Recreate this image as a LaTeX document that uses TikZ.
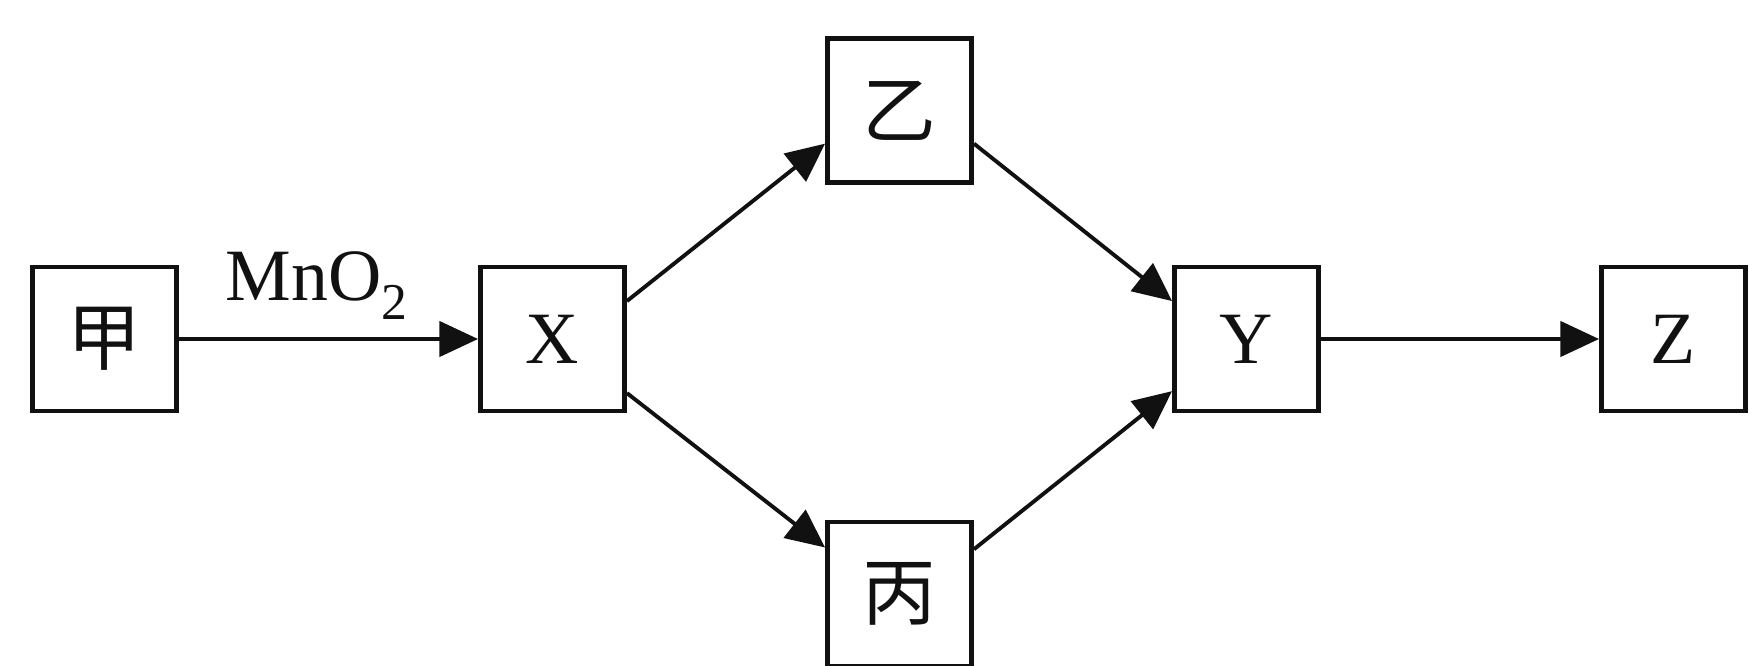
\documentclass[tikz,border=0pt]{standalone}
\usepackage{fontspec}
\setmainfont{Liberation Serif}
\newfontfamily\cjk{Noto Sans CJK SC}
\usepackage{xcolor}
\usetikzlibrary{arrows.meta}
\definecolor{ink}{HTML}{111111}
\tikzset{
  box/.style={draw=ink, line width=2.8pt, minimum size=2.88cm, inner sep=0pt,
    font=\fontsize{42}{50}\selectfont},
  flow/.style={draw=ink, line width=2.2pt, -{Triangle[length=22pt,width=20pt]}},
  lab/.style={font=\fontsize{42}{50}\selectfont},
  every node/.style={text=ink}
}

\begin{document}
\begin{tikzpicture}[x=0.02cm, y=-0.02cm]
  \useasboundingbox (0,0) rectangle (1749,666);
  \node[box] (jia)  at (104.5,339) {\cjk 甲};
  \node[box] (X)    at (552.5,339) {X};
  \node[box] (yi)   at (899.5,110.5) {\cjk 乙};
  \node[box] (bing) at (899.5,594) {\cjk 丙};
  \node[box] (Y)    at (1246.5,339) {Y};
  \node[box] (Z)    at (1673.5,339) {Z};
  \draw[flow] (jia) -- (X);
  \node[lab, anchor=base] (mno) at (317,300) {MnO\textsubscript{2}};
  \draw[flow] (X.27) -- (yi.204);
  \draw[flow] (X.-36) -- (bing.148.5);
  \draw[flow] (yi.-24) -- (Y.153.5);
  \draw[flow] (bing.31.5) -- (Y.215);
  \draw[flow] (Y) -- (Z);
\end{tikzpicture}
\end{document}
